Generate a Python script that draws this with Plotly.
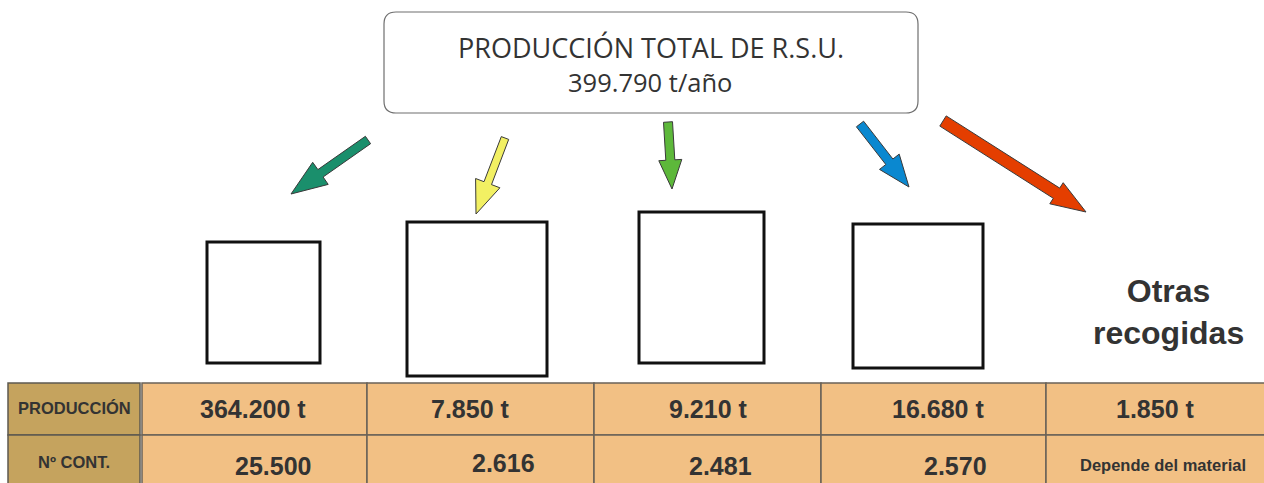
import plotly.graph_objects as go
import math

# ---------------- data ----------------
title_line1 = "PRODUCCIÓN TOTAL DE R.S.U."
total_t = 399790
row_labels = ["PRODUCCIÓN", "Nº CONT."]
produccion_t = [364200, 7850, 9210, 16680, 1850]
contenedores = [25500, 2616, 2481, 2570, None]
sin_dato = "Depende del material"
otras_label = "Otras<br>recogidas"


def fmt(v):
    return f"{v:,}".replace(",", ".")


# ---------------- layout geometry (pixels) ----------------
W, H = 1264, 483
arrow_colors = ["#1a8f6c", "#f2f063", "#5db83a", "#0a88d0", "#e43e00"]
# tail(x,y), tip(x,y), shaft width, head width, head length
arrow_geom = [
    ((368, 140), (291, 194), 9, 27, 36),
    ((505, 138), (476, 214), 8, 26, 33),
    ((668, 122), (672, 189), 9, 23, 29),
    ((860, 124), (909, 187), 9, 25, 32),
    ((943, 121), (1086, 212), 12, 25, 35),
]
boxes = [(207, 242, 320, 363), (407, 222, 547, 376), (639, 212, 764, 363), (853, 224, 983, 368)]
col_edges = [142, 367, 594, 821, 1046, 1268]
hdr_x0, hdr_x1 = 8, 140
tab_top, tab_mid, tab_bot = 383, 435, 495
row1_dx = [-2, -10, 1, 4, 0]
row2_dx = [18, 23, 13, 22, 8]
row2_y = [466, 463, 466, 466, 465]

fig = go.Figure()


def arrow_poly(tail, tip, w, hw, hl):
    tx, ty = tail
    px, py = tip
    L = math.hypot(px - tx, py - ty)
    dx, dy = (px - tx) / L, (py - ty) / L
    nx, ny = -dy, dx
    bx, by = px - dx * hl, py - dy * hl
    pts = [
        (tx + nx * w / 2, ty + ny * w / 2),
        (bx + nx * w / 2, by + ny * w / 2),
        (bx + nx * hw / 2, by + ny * hw / 2),
        (px, py),
        (bx - nx * hw / 2, by - ny * hw / 2),
        (bx - nx * w / 2, by - ny * w / 2),
        (tx - nx * w / 2, ty - ny * w / 2),
    ]
    return "M " + " L ".join(f"{x:.1f},{y:.1f}" for x, y in pts) + " Z"


shapes = []
# title box (rounded)
x0, y0, x1, y1, r = 384, 12, 918, 113, 12
path = (f"M {x0+r},{y0} L {x1-r},{y0} Q {x1},{y0} {x1},{y0+r} L {x1},{y1-r} "
        f"Q {x1},{y1} {x1-r},{y1} L {x0+r},{y1} Q {x0},{y1} {x0},{y1-r} "
        f"L {x0},{y0+r} Q {x0},{y0} {x0+r},{y0} Z")
shapes.append(dict(type="path", path=path, line=dict(color="#6f6f6f", width=1.2), fillcolor="white"))

for col, g in zip(arrow_colors, arrow_geom):
    shapes.append(dict(type="path", path=arrow_poly(*g), fillcolor=col, line=dict(color="#3a3a3a", width=1)))

for bx0, by0, bx1, by1 in boxes:
    shapes.append(dict(type="rect", x0=bx0, y0=by0, x1=bx1, y1=by1, line=dict(color="#111", width=3), fillcolor="white"))

# table cells
for ri, (ya, yb) in enumerate([(tab_top, tab_mid), (tab_mid, tab_bot)]):
    shapes.append(dict(type="rect", x0=hdr_x0, y0=ya, x1=hdr_x1, y1=yb, fillcolor="#c5a35e",
                       line=dict(color="#5e5a50", width=1.5)))
    for ci in range(len(col_edges) - 1):
        shapes.append(dict(type="rect", x0=col_edges[ci], y0=ya, x1=col_edges[ci + 1], y1=yb,
                           fillcolor="#f2c084", line=dict(color="#6a6258", width=1.5)))

annotations = []
annotations.append(dict(x=651, y=47, text=title_line1, showarrow=False,
                        font=dict(family="Open Sans", size=27, color="#333")))
annotations.append(dict(x=650, y=82, text=f"{fmt(total_t)} t/año", showarrow=False,
                        font=dict(family="Open Sans", size=25.5, color="#333")))
annotations.append(dict(x=1168, y=312, text=f"<b>{otras_label}</b>", showarrow=False,
                        font=dict(family="Liberation Sans", size=32, color="#333")))

for lbl, yy in zip(row_labels, [408, 462]):
    annotations.append(dict(x=(hdr_x0 + hdr_x1) / 2, y=yy, text=f"<b>{lbl}</b>", showarrow=False,
                            font=dict(family="Liberation Sans", size=16.5, color="#333")))

for ci in range(5):
    cx = (col_edges[ci] + col_edges[ci + 1]) / 2
    if ci == 4:
        cx = (col_edges[ci] + 1264) / 2
    annotations.append(dict(x=cx + row1_dx[ci], y=409, text=f"<b>{fmt(produccion_t[ci])} t</b>", showarrow=False,
                            font=dict(family="Liberation Sans", size=25, color="#333")))
    v = contenedores[ci]
    if v is None:
        annotations.append(dict(x=cx + row2_dx[ci], y=row2_y[ci], text=f"<b>{sin_dato}</b>", showarrow=False,
                                font=dict(family="Liberation Sans", size=16.5, color="#333")))
    else:
        annotations.append(dict(x=cx + row2_dx[ci], y=row2_y[ci], text=f"<b>{fmt(v)}</b>", showarrow=False,
                                font=dict(family="Liberation Sans", size=25, color="#333")))

fig.update_layout(
    width=W, height=H, margin=dict(l=0, r=0, t=0, b=0),
    paper_bgcolor="white", plot_bgcolor="white",
    xaxis=dict(range=[0, W], visible=False, fixedrange=True),
    yaxis=dict(range=[H, 0], visible=False, fixedrange=True),
    shapes=shapes, annotations=annotations, showlegend=False,
)
fig.write_html("out.html", config={"displayModeBar": False},
               post_script="document.body.style.margin='0';document.body.style.overflow='hidden';")
